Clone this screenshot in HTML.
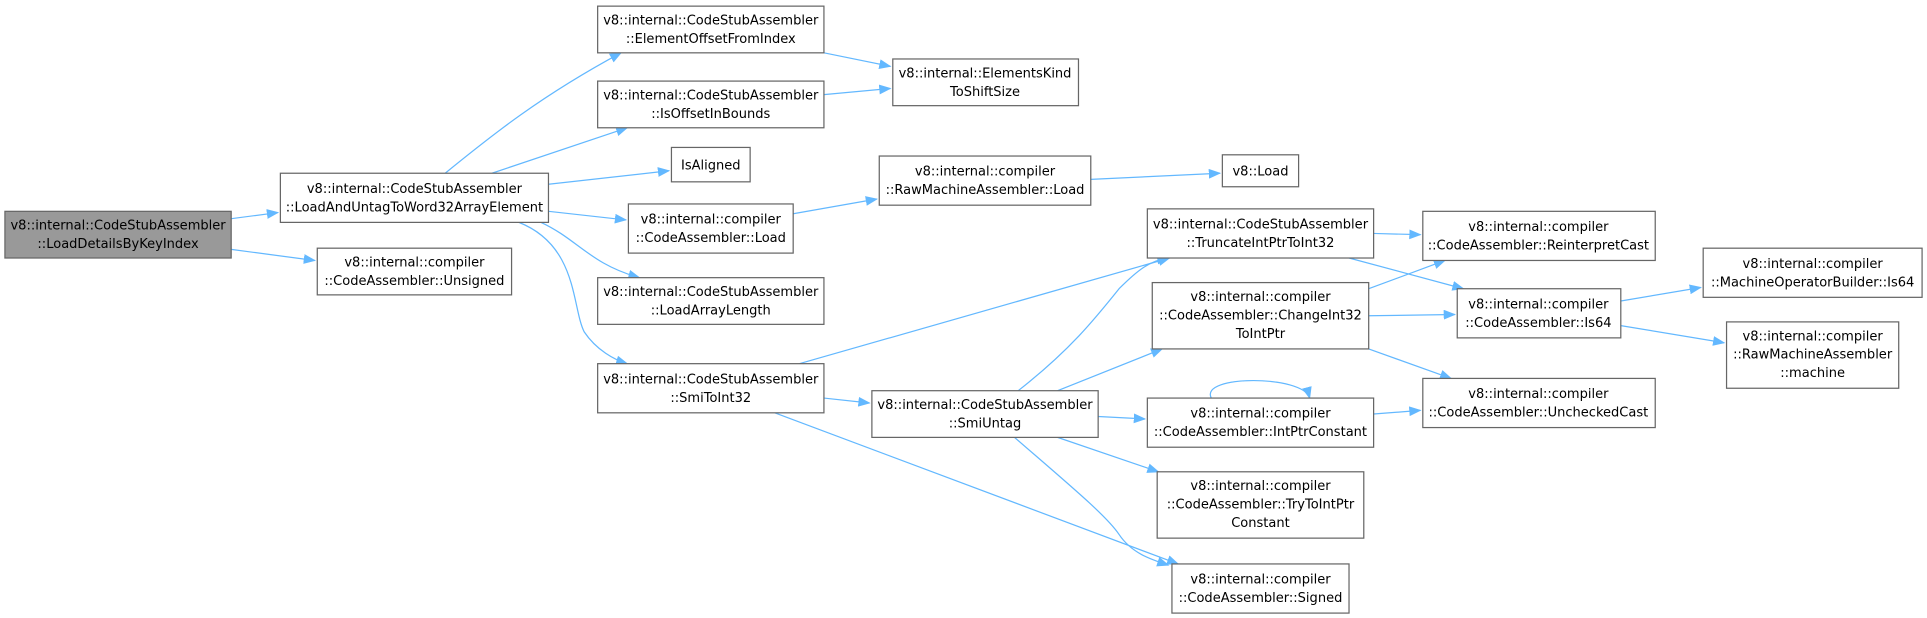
<!DOCTYPE html>
<html><head><meta charset="utf-8"><style>
html,body{margin:0;padding:0;background:#fff;}
svg{display:block}
text{font-family:"DejaVu Sans","Liberation Sans",sans-serif;font-size:10.6px;fill:#000;text-anchor:middle}
.n{fill:#fff;stroke:#666;stroke-width:1}
.e{fill:none;stroke:#63b8ff;stroke-width:1}
</style></head><body>
<svg width="1927" height="618" viewBox="0 0 1567 503" preserveAspectRatio="none" xmlns="http://www.w3.org/2000/svg">
<defs><marker id="a" markerWidth="10" markerHeight="8" refX="9" refY="4" orient="auto" markerUnits="userSpaceOnUse"><path d="M0,0 L10,4 L0,8 z" fill="#63b8ff"/></marker></defs>
<g class="edges">
<path class="e" marker-end="url(#a)" d="M188,178 L226,173"/>
<path class="e" marker-end="url(#a)" d="M188,203 L256,212"/>
<path class="e" marker-end="url(#a)" d="M362,141 C400,110 440,78 505,43"/>
<path class="e" marker-end="url(#a)" d="M400,141 L510,104"/>
<path class="e" marker-end="url(#a)" d="M446,150 L544,139"/>
<path class="e" marker-end="url(#a)" d="M446,172 L509,179"/>
<path class="e" marker-end="url(#a)" d="M440,181 C470,195 480,215 520,226"/>
<path class="e" marker-end="url(#a)" d="M422,181 C470,200 465,250 475,270 C485,285 500,293 510,296"/>
<path class="e" marker-end="url(#a)" d="M670,43 L724,54"/>
<path class="e" marker-end="url(#a)" d="M670,77 L724,72"/>
<path class="e" marker-end="url(#a)" d="M645,174 L713,162"/>
<path class="e" marker-end="url(#a)" d="M887,146 L992,141"/>
<path class="e" marker-end="url(#a)" d="M650,296 L951,210"/>
<path class="e" marker-end="url(#a)" d="M670,324 L707,328"/>
<path class="e" marker-end="url(#a)" d="M630,336 L958,459"/>
<path class="e" marker-end="url(#a)" d="M828,318 C870,285 890,260 910,235 C925,220 935,212 950,210"/>
<path class="e" marker-end="url(#a)" d="M860,318 L945,284"/>
<path class="e" marker-end="url(#a)" d="M893,339 L931,341"/>
<path class="e" marker-end="url(#a)" d="M860,356 L942,384"/>
<path class="e" marker-end="url(#a)" d="M825,356 C870,395 900,420 910,435 C920,450 935,455 950,460"/>
<path class="e" marker-end="url(#a)" d="M1117,190 L1155,191"/>
<path class="e" marker-end="url(#a)" d="M1097,210 L1190,235"/>
<path class="e" marker-end="url(#a)" d="M1113,235 L1175,212"/>
<path class="e" marker-end="url(#a)" d="M1113,257 L1183,256"/>
<path class="e" marker-end="url(#a)" d="M1113,284 L1180,308"/>
<path class="e" marker-end="url(#a)" d="M985,324 C975,305 1060,305 1065,324"/>
<path class="e" marker-end="url(#a)" d="M1117,337 L1155,334"/>
<path class="e" marker-end="url(#a)" d="M1318,245 L1383,234"/>
<path class="e" marker-end="url(#a)" d="M1318,265 L1402,279"/>
</g>
<rect x="4" y="172" width="184" height="38" fill="#999" stroke="#666"/>
<text x="96" y="187">v8::internal::CodeStubAssembler</text><text x="96" y="202">::LoadDetailsByKeyIndex</text>
<rect class="n" x="228" y="141" width="218" height="40"/>
<text x="337" y="157">v8::internal::CodeStubAssembler</text><text x="337" y="172">::LoadAndUntagToWord32ArrayElement</text>
<rect class="n" x="258" y="202" width="158" height="38"/>
<text x="337" y="217">v8::internal::compiler</text><text x="337" y="232">::CodeAssembler::Unsigned</text>
<rect class="n" x="486" y="5" width="184" height="38"/>
<text x="578" y="20">v8::internal::CodeStubAssembler</text><text x="578" y="35">::ElementOffsetFromIndex</text>
<rect class="n" x="486" y="66" width="184" height="38"/>
<text x="578" y="81">v8::internal::CodeStubAssembler</text><text x="578" y="96">::IsOffsetInBounds</text>
<rect class="n" x="546" y="120" width="64" height="28"/>
<text x="578" y="138">IsAligned</text>
<rect class="n" x="511" y="166" width="134" height="40"/>
<text x="578" y="182">v8::internal::compiler</text><text x="578" y="197">::CodeAssembler::Load</text>
<rect class="n" x="486" y="226" width="184" height="38"/>
<text x="578" y="241">v8::internal::CodeStubAssembler</text><text x="578" y="256">::LoadArrayLength</text>
<rect class="n" x="486" y="296" width="184" height="40"/>
<text x="578" y="312">v8::internal::CodeStubAssembler</text><text x="578" y="327">::SmiToInt32</text>
<rect class="n" x="726" y="48" width="151" height="38"/>
<text x="801" y="63">v8::internal::ElementsKind</text><text x="801" y="78">ToShiftSize</text>
<rect class="n" x="715" y="127" width="172" height="40"/>
<text x="801" y="143">v8::internal::compiler</text><text x="801" y="158">::RawMachineAssembler::Load</text>
<rect class="n" x="994" y="126" width="62" height="26"/>
<text x="1025" y="143">v8::Load</text>
<rect class="n" x="933" y="170" width="184" height="40"/>
<text x="1025" y="186">v8::internal::CodeStubAssembler</text><text x="1025" y="201">::TruncateIntPtrToInt32</text>
<rect class="n" x="937" y="230" width="176" height="54"/>
<text x="1025" y="245">v8::internal::compiler</text><text x="1025" y="260">::CodeAssembler::ChangeInt32</text><text x="1025" y="275">ToIntPtr</text>
<rect class="n" x="709" y="318" width="184" height="38"/>
<text x="801" y="333">v8::internal::CodeStubAssembler</text><text x="801" y="348">::SmiUntag</text>
<rect class="n" x="933" y="324" width="184" height="40"/>
<text x="1025" y="340">v8::internal::compiler</text><text x="1025" y="355">::CodeAssembler::IntPtrConstant</text>
<rect class="n" x="941" y="384" width="168" height="54"/>
<text x="1025" y="399">v8::internal::compiler</text><text x="1025" y="414">::CodeAssembler::TryToIntPtr</text><text x="1025" y="429">Constant</text>
<rect class="n" x="953" y="459" width="144" height="40"/>
<text x="1025" y="475">v8::internal::compiler</text><text x="1025" y="490">::CodeAssembler::Signed</text>
<rect class="n" x="1157" y="172" width="189" height="40"/>
<text x="1251" y="188">v8::internal::compiler</text><text x="1251" y="203">::CodeAssembler::ReinterpretCast</text>
<rect class="n" x="1185" y="235" width="133" height="40"/>
<text x="1251" y="251">v8::internal::compiler</text><text x="1251" y="266">::CodeAssembler::Is64</text>
<rect class="n" x="1157" y="308" width="189" height="40"/>
<text x="1251" y="324">v8::internal::compiler</text><text x="1251" y="339">::CodeAssembler::UncheckedCast</text>
<rect class="n" x="1385" y="202" width="178" height="40"/>
<text x="1474" y="218">v8::internal::compiler</text><text x="1474" y="233">::MachineOperatorBuilder::Is64</text>
<rect class="n" x="1404" y="262" width="140" height="54"/>
<text x="1474" y="277">v8::internal::compiler</text><text x="1474" y="292">::RawMachineAssembler</text><text x="1474" y="307">::machine</text>
</svg>
</body></html>
